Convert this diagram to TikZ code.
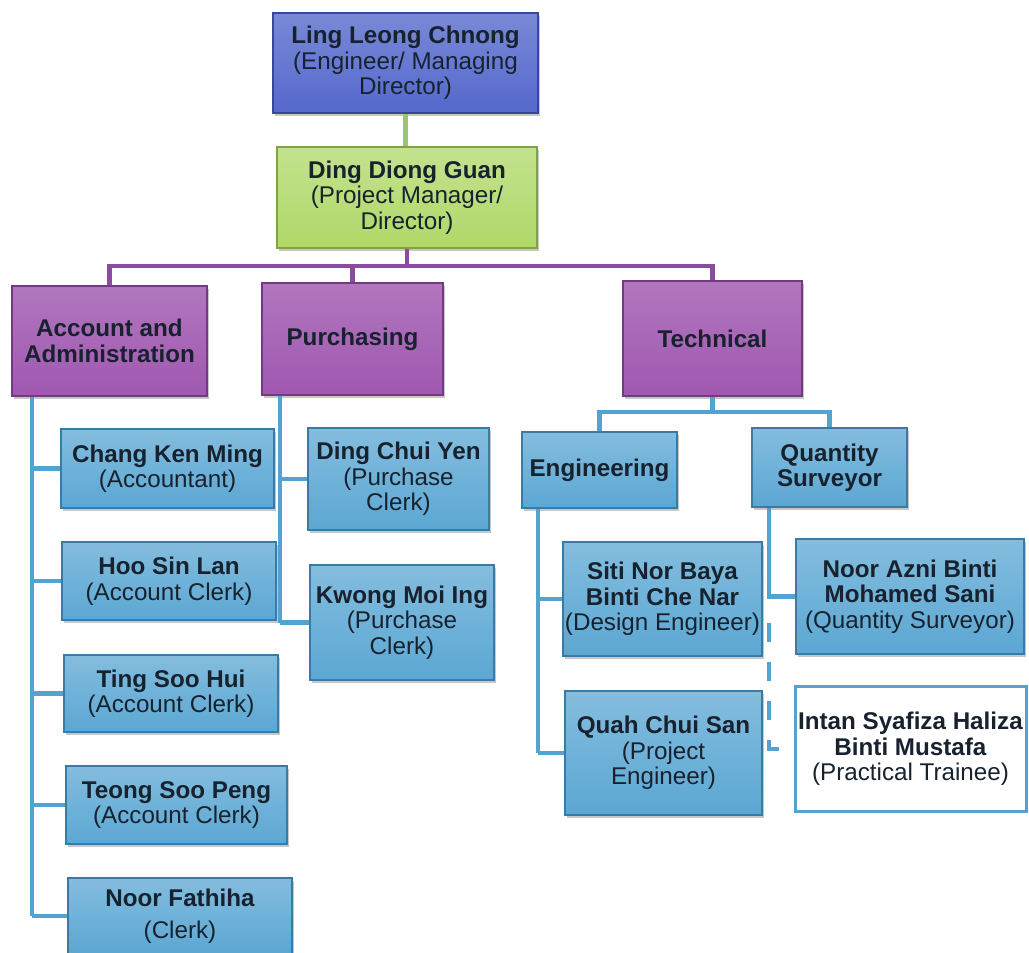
\documentclass[tikz,border=0pt]{standalone}
\usepackage{fontspec}
\setmainfont{Liberation Sans}
\usetikzlibrary{shadows}
\definecolor{txt}{HTML}{17222E}
\definecolor{topc}{HTML}{5468CC}
\definecolor{topd}{HTML}{38479A}
\definecolor{grnc}{HTML}{B0D868}
\definecolor{grnd}{HTML}{7FA242}
\definecolor{purc}{HTML}{A058B0}
\definecolor{purd}{HTML}{713A83}
\definecolor{bluc}{HTML}{5BA7D3}
\definecolor{blud}{HTML}{3A7BA6}
\definecolor{gline}{HTML}{9CC66C}
\definecolor{pline}{HTML}{8C4C9E}
\definecolor{bline}{HTML}{52A3CF}
\tikzset{
  box/.style={rectangle, inner sep=0pt, align=center, text=txt,
    font=\fontsize{24.2}{25.5}\selectfont, line width=1.3pt,
    drop shadow={shadow xshift=2pt, shadow yshift=-3pt, fill=black, opacity=0.22}},
  topbox/.style={box, top color=topc!78!white, bottom color=topc, draw=topd},
  grnbox/.style={box, top color=grnc!75!white, bottom color=grnc, draw=grnd},
  purbox/.style={box, top color=purc!82!white, bottom color=purc, draw=purd},
  blubox/.style={box, top color=bluc!75!white, bottom color=bluc, draw=blud},
  whtbox/.style={rectangle, inner sep=0pt, align=center, text=txt,
    font=\fontsize{24.2}{25.5}\selectfont, fill=white, draw=bline, line width=3pt},
  glink/.style={draw=gline, line width=4.5pt},
  plink/.style={draw=pline, line width=4.5pt},
  blink/.style={draw=bline, line width=4.5pt},
  dlink/.style={draw=bline, line width=4.5pt, dash pattern=on 19pt off 20pt},
  sz/.style 2 args={minimum width=#1, minimum height=#2}
}
\begin{document}
\begin{tikzpicture}[x=1pt,y=-1pt]
\useasboundingbox (0,0) rectangle (1029,953);

% top levels
\node[topbox, sz={265pt}{100pt}] (md) at (405.5,63) {\textbf{Ling Leong Chnong}\\(Engineer/ Managing\\Director)};
\node[grnbox, sz={260pt}{101pt}] (pm) at (407,197.5) {\textbf{Ding Diong Guan}\\(Project Manager/\\Director)};

% departments
\node[purbox, sz={195pt}{110pt}] (acc) at (109.5,341) {\textbf{Account and}\\\textbf{Administration}};
\node[purbox, sz={181pt}{112pt}] (pur) at (352.5,339) {\textbf{Purchasing}};
\node[purbox, sz={179pt}{115pt}] (tec) at (712.5,338.5) {\textbf{Technical}};

% technical sub-units
\node[blubox, sz={155pt}{76pt}] (eng) at (599.5,470) {\textbf{Engineering}};
\node[blubox, sz={155pt}{79pt}] (qs) at (829.5,467.5) {\textbf{Quantity}\\\textbf{Surveyor}};

% account staff
\node[blubox, sz={213pt}{79pt}] (chang) at (167.5,468.5) {\textbf{Chang Ken Ming}\\(Accountant)};
\node[blubox, sz={214pt}{78pt}] (hoo) at (169,581) {\textbf{Hoo Sin Lan}\\(Account Clerk)};
\node[blubox, sz={214pt}{77pt}] (ting) at (171,693.5) {\textbf{Ting Soo Hui}\\(Account Clerk)};
\node[blubox, sz={221pt}{78pt}] (teong) at (176.5,805) {\textbf{Teong Soo Peng}\\(Account Clerk)};
\node[blubox, sz={224pt}{76pt}] (noor) at (180,916) {\textbf{Noor Fathiha}\\[7pt](Clerk)};

% purchasing staff
\node[blubox, sz={181pt}{102pt}] (ding) at (398.5,479) {\textbf{Ding Chui Yen}\\(Purchase\\Clerk)};
\node[blubox, sz={184pt}{115pt}] (kwong) at (402,622.5) {\textbf{Kwong Moi Ing}\\(Purchase\\Clerk)};

% engineering staff
\node[blubox, sz={199pt}{114pt}] (siti) at (662.5,599) {\textbf{Siti Nor Baya}\\\textbf{Binti Che Nar}\\(Design Engineer)};
\node[blubox, sz={197pt}{124pt}] (quah) at (663.5,753) {\textbf{Quah Chui San}\\(Project\\Engineer)};

% QS staff
\node[blubox, sz={228pt}{115pt}] (azni) at (910,596.5) {\textbf{Noor Azni Binti}\\\textbf{Mohamed Sani}\\(Quantity Surveyor)};
\node[whtbox, sz={231pt}{125pt}] (intan) at (910.5,749) {\textbf{Intan Syafiza Haliza}\\\textbf{Binti Mustafa}\\(Practical Trainee)};

% helper coordinates
\coordinate (pbar) at (0,266);
\coordinate (tbar) at (0,412);
\coordinate (av) at (32,0);
\coordinate (pv) at (280,0);
\coordinate (ev) at (538,0);
\coordinate (qv) at (769,0);
\coordinate (qdash) at (769,623);

% connectors
\draw[glink] (md.south) -- (md.south |- pm.north);
\draw[plink] (pm.south) -- (pm.south |- pbar);
\draw[plink] (acc.north) -- (acc.north |- pbar) -- (tec.north |- pbar) -- (tec.north);
\draw[plink] (pur.north) -- (pur.north |- pbar);

\draw[blink] (tec.south) -- (tec.south |- tbar);
\draw[blink] (eng.north) -- (eng.north |- tbar) -- (qs.north |- tbar) -- (qs.north);

\draw[blink] (av |- acc.south) -- (av |- noor.west);
\foreach \n in {chang,hoo,ting,teong,noor} \draw[blink] (av |- \n.west) -- (\n.west);

\draw[blink] (pv |- pur.south) -- (pv |- kwong.west);
\foreach \n in {ding,kwong} \draw[blink] (pv |- \n.west) -- (\n.west);

\draw[blink] (ev |- eng.south) -- (ev |- quah.west);
\foreach \n in {siti,quah} \draw[blink] (ev |- \n.west) -- (\n.west);

\draw[blink] (qv |- qs.south) -- (qv |- azni.west) -- (azni.west);
\draw[dlink] (qdash) |- (intan.west);
\end{tikzpicture}
\end{document}
